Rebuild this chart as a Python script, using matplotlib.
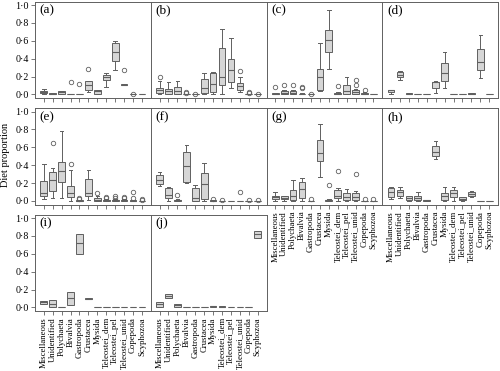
import matplotlib
matplotlib.use("Agg")
import matplotlib.pyplot as plt

plt.rcParams['font.family'] = ['Liberation Serif', 'DejaVu Serif']

categories = ["Miscellaneous", "Unidentified", "Polychaeta", "Bivalvia", "Gastropoda",
              "Crustacea", "Mysida", "Teleostei_dem", "Teleostei_pel", "Teleostei_unid",
              "Copepoda", "Scyphozoa"]

Z = (0.0, 0.0, 0.0, 0.0, 0.0, [])

# (whisker low, q1, median, q3, whisker high, outliers) per category
stats_a = [(0.01, 0.02, 0.03, 0.04, 0.06, []), (0.0, 0.004, 0.01, 0.015, 0.02, []),
           (0.0, 0.01, 0.025, 0.035, 0.04, []), (0.0, 0.0, 0.0, 0.005, 0.01, [0.14]),
           (0.0, 0.0, 0.0, 0.0, 0.0, [0.12]), (0.03, 0.055, 0.1, 0.145, 0.155, [0.29]),
           (0.0, 0.01, 0.04, 0.05, 0.05, []), (0.085, 0.16, 0.19, 0.22, 0.24, []),
           (0.27, 0.37, 0.47, 0.575, 0.6, []), (0.1, 0.1, 0.105, 0.115, 0.115, [0.27]),
           (0.0, 0.0, 0.0, 0.0, 0.0, [0.0]), Z]
stats_b = [(0.0, 0.015, 0.05, 0.075, 0.145, [0.2]), (0.0, 0.01, 0.04, 0.065, 0.14, []),
           (0.0, 0.008, 0.04, 0.08, 0.155, []), (0.0, 0.0, 0.0, 0.005, 0.01, [0.015, 0.025]),
           (0.0, 0.0, 0.0, 0.0, 0.0, [0.0]), (0.0, 0.02, 0.07, 0.17, 0.245, []),
           (0.0, 0.03, 0.12, 0.245, 0.25, []), (0.0, 0.105, 0.19, 0.52, 0.73, []),
           (0.07, 0.14, 0.275, 0.4, 0.63, []), (0.03, 0.05, 0.09, 0.125, 0.2, [0.26]),
           (0.0, 0.0, 0.0, 0.005, 0.01, [0.02, 0.03]), (0.0, 0.0, 0.0, 0.0, 0.0, [0.0])]
stats_c = [(0.0, 0.005, 0.01, 0.015, 0.02, [0.085]), (0.0, 0.01, 0.02, 0.035, 0.05, [0.1]),
           (0.0, 0.01, 0.02, 0.035, 0.05, [0.1]), (0.0, 0.0, 0.005, 0.01, 0.015, [0.07, 0.085]),
           (0.0, 0.0, 0.0, 0.0, 0.0, [0.0]), (0.035, 0.05, 0.19, 0.29, 0.57, []),
           (0.29, 0.47, 0.605, 0.725, 0.95, []), (0.0, 0.005, 0.01, 0.02, 0.03, [0.09]),
           (0.0, 0.01, 0.04, 0.11, 0.19, []), (0.0, 0.01, 0.03, 0.045, 0.06, [0.11, 0.16]),
           (0.0, 0.005, 0.01, 0.02, 0.03, [0.045]), Z]
stats_d = [(0.01, 0.03, 0.045, 0.055, 0.055, []), (0.16, 0.19, 0.22, 0.25, 0.26, []),
           (0.0, 0.005, 0.01, 0.02, 0.02, []), Z, Z,
           (0.02, 0.07, 0.135, 0.14, 0.145, []), (0.07, 0.15, 0.24, 0.35, 0.47, []),
           Z, Z, (0.0, 0.005, 0.01, 0.015, 0.02, []),
           (0.18, 0.27, 0.36, 0.51, 0.67, []), Z]
stats_e = [(0.02, 0.06, 0.09, 0.22, 0.41, []), (0.03, 0.11, 0.23, 0.32, 0.365, [0.645]),
           (0.03, 0.21, 0.34, 0.44, 0.785, []), (0.0, 0.04, 0.09, 0.17, 0.35, [0.415]),
           (0.0, 0.0, 0.0, 0.005, 0.01, [0.02, 0.03]), (0.01, 0.05, 0.085, 0.245, 0.35, []),
           (0.0, 0.0, 0.01, 0.03, 0.05, [0.09]), (0.0, 0.0, 0.005, 0.01, 0.02, [0.03, 0.04]),
           (0.0, 0.0, 0.005, 0.01, 0.02, [0.03, 0.05]), (0.0, 0.0, 0.005, 0.01, 0.02, [0.03, 0.04]),
           (0.0, 0.0, 0.0, 0.005, 0.01, [0.03, 0.1]), (0.0, 0.0, 0.0, 0.0, 0.0, [0.01, 0.02])]
stats_f = [(0.17, 0.19, 0.235, 0.29, 0.32, []), (0.0, 0.03, 0.07, 0.15, 0.16, []),
           (0.0, 0.0, 0.005, 0.01, 0.02, [0.07]), (0.2, 0.21, 0.39, 0.55, 0.63, []),
           (0.0, 0.0, 0.03, 0.14, 0.18, []), (0.0, 0.02, 0.19, 0.31, 0.43, []),
           (0.0, 0.0, 0.0, 0.005, 0.01, [0.02]), (0.0, 0.0, 0.0, 0.0, 0.0, [0.01]),
           Z, (0.0, 0.0, 0.0, 0.0, 0.0, [0.1]),
           (0.0, 0.0, 0.0, 0.0, 0.0, [0.01]), (0.0, 0.0, 0.0, 0.0, 0.0, [0.01])]
stats_g = [(0.0, 0.02, 0.04, 0.055, 0.1, []), (0.0, 0.02, 0.035, 0.05, 0.06, []),
           (0.0, 0.01, 0.05, 0.125, 0.23, []), (0.0, 0.03, 0.13, 0.21, 0.255, []),
           (0.0, 0.0, 0.0, 0.0, 0.0, [0.02]), (0.27, 0.45, 0.54, 0.68, 0.86, []),
           (0.0, 0.0, 0.005, 0.01, 0.02, [0.18]), (0.0, 0.03, 0.06, 0.125, 0.15, [0.34]),
           (0.0, 0.01, 0.04, 0.09, 0.13, []), (0.0, 0.01, 0.04, 0.09, 0.11, [0.3]),
           (0.0, 0.0, 0.0, 0.0, 0.0, [0.02]), (0.0, 0.0, 0.0, 0.0, 0.0, [0.02])]
stats_h = [(0.02, 0.04, 0.105, 0.14, 0.16, []), (0.03, 0.05, 0.095, 0.125, 0.155, []),
           (0.0, 0.01, 0.03, 0.05, 0.05, []), (0.0, 0.01, 0.03, 0.055, 0.095, []),
           (0.0, 0.0, 0.005, 0.01, 0.01, []), (0.47, 0.5, 0.55, 0.61, 0.67, []),
           (0.0, 0.01, 0.05, 0.085, 0.155, []), (0.0, 0.04, 0.085, 0.125, 0.16, []),
           (0.0, 0.01, 0.02, 0.04, 0.04, []), (0.04, 0.055, 0.08, 0.095, 0.11, []),
           Z, Z]
stats_i = [(0.04, 0.04, 0.056, 0.067, 0.067, []), (0.004, 0.004, 0.04, 0.086, 0.086, []),
           Z, (0.03, 0.03, 0.1, 0.17, 0.17, []), (0.6, 0.6, 0.72, 0.825, 0.825, []),
           (0.09, 0.09, 0.095, 0.1, 0.1, []), Z, Z, Z, Z, Z, Z]
stats_j = [(0.01, 0.01, 0.035, 0.06, 0.06, []), (0.105, 0.105, 0.13, 0.15, 0.15, []),
           (0.01, 0.01, 0.025, 0.037, 0.037, []), Z, Z, Z,
           (0.008, 0.008, 0.014, 0.02, 0.02, []), (0.005, 0.005, 0.01, 0.015, 0.015, []),
           Z, Z, Z, (0.78, 0.78, 0.82, 0.86, 0.86, [])]

panels = [("a", stats_a), ("b", stats_b), ("c", stats_c), ("d", stats_d),
          ("e", stats_e), ("f", stats_f), ("g", stats_g), ("h", stats_h),
          ("i", stats_i), ("j", stats_j)]
yticks = [0.0, 0.2, 0.4, 0.6, 0.8, 1.0]
ytick_labels = ["0\u00b70", "0\u00b72", "0\u00b74", "0\u00b76", "0\u00b78", "1\u00b70"]

W, H = 500, 371
fig = plt.figure(figsize=(W / 100, H / 100), dpi=100)

left0, right0 = 35, 498
pw = (right0 - left0) / 4
row_tops = [1.5, 108, 214.5]
ph = 96.5
grey = "#606060"
labelled = {"g", "h", "i", "j"}

for k, (name, st) in enumerate(panels):
    r, c = divmod(k, 4)
    x0 = left0 + c * pw
    y0 = row_tops[r]
    ax = fig.add_axes([x0 / W, 1 - (y0 + ph) / H, pw / W, ph / H])
    bx = [dict(whislo=s[0], q1=s[1], med=s[2], q3=s[3], whishi=s[4], fliers=s[5])
          for s in st]
    ax.bxp(bx, positions=range(1, 13), widths=0.75, patch_artist=True,
           boxprops=dict(facecolor="#d6d6d6", edgecolor=grey, linewidth=0.7),
           medianprops=dict(color=grey, linewidth=0.8),
           whiskerprops=dict(color=grey, linewidth=0.7),
           capprops=dict(color=grey, linewidth=0.7), capwidths=0.4,
           flierprops=dict(marker="o", markersize=3.2, markerfacecolor="none",
                           markeredgecolor=grey, markeredgewidth=0.6))
    ax.set_xlim(0.02, 12.98)
    ax.set_ylim(-0.04, 1.04)
    for sp in ax.spines.values():
        sp.set_color(grey)
        sp.set_linewidth(0.7)
    ax.tick_params(color=grey, width=0.6, length=3, labelsize=7.2, pad=1.5)
    ax.set_xticks(range(1, 13))
    if name in labelled:
        ax.set_xticklabels(categories, rotation=90, fontsize=6.3)
    else:
        ax.set_xticklabels([])
    ax.set_yticks(yticks)
    if c == 0:
        ax.set_yticklabels(ytick_labels)
    else:
        ax.tick_params(axis="y", left=False, labelleft=False)
    ax.text(0.04, 0.97, "(%s)" % name, transform=ax.transAxes, ha="left", va="top",
            fontsize=9.5)

fig.text(6 / W, 1 - 155 / H, "Diet proportion", rotation=90, ha="center", va="center",
         fontsize=7.5)

fig.savefig("out.png", dpi=100)
